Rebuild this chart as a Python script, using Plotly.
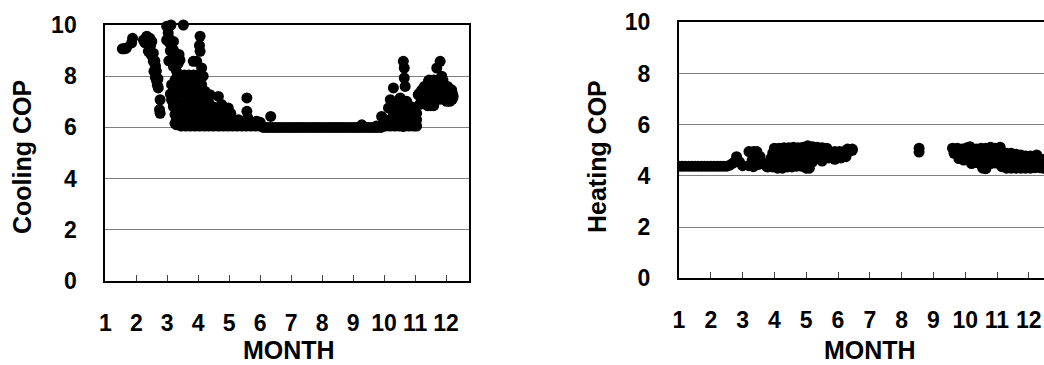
import plotly.graph_objects as go

# ---------------- data ----------------
months = [1, 2, 3, 4, 5, 6, 7, 8, 9, 10, 11, 12]
month_labels = [str(m) for m in months]
cop_ticks = [0, 2, 4, 6, 8, 10]

# Cooling COP: (month position, COP)
cooling_points = [
    (1.55, 9.07), (1.62, 9.07), (1.68, 9.10), (1.85, 9.30), (1.88, 9.48),
    (2.23, 9.41), (2.34, 9.56), (2.44, 9.48), (2.50, 9.36), (2.39, 8.97), (2.46, 9.20),
    (2.55, 8.58), (2.50, 8.80), (2.57, 8.19), (2.62, 8.40), (2.66, 7.80), (2.62, 7.95),
    (2.71, 7.54), (2.77, 7.08), (2.75, 6.69), (2.77, 6.55),
    (2.28, 9.30), (2.40, 9.25), (2.45, 8.90), (2.55, 8.90), (2.60, 8.60), (2.65, 8.20),
    (2.70, 7.90), (2.68, 7.65),
    (2.98, 9.95), (3.03, 9.69), (3.12, 10.0), (3.52, 10.0), (2.98, 9.41), (3.09, 9.28),
    (3.20, 9.36), (3.14, 8.97), (3.20, 9.02), (3.25, 8.58), (3.14, 8.63), (3.30, 8.19),
    (3.20, 8.37), (3.25, 7.85), (3.14, 7.67), (3.25, 7.28), (3.20, 7.46), (3.20, 6.89),
    (3.14, 7.07), (3.25, 6.50), (3.20, 6.81), (3.25, 6.16), (3.36, 6.17), (3.30, 6.35),
    (3.41, 6.68), (3.47, 7.33), (3.41, 7.98), (3.41, 8.63), (3.38, 8.85), (3.35, 7.00),
    (3.30, 7.60), (3.32, 8.00),
    (3.05, 9.50), (3.10, 9.00), (3.05, 8.60), (3.35, 8.50), (3.40, 7.60), (3.10, 7.30),
    (3.35, 6.80), (3.30, 6.10),
    (3.63, 7.93), (3.58, 7.54), (3.68, 7.02), (3.73, 6.50), (3.79, 6.10), (3.90, 7.93),
    (3.84, 8.58), (3.95, 8.58), (4.06, 9.56), (4.06, 8.97), (4.04, 9.20), (4.11, 8.32),
    (4.16, 8.00), (4.11, 7.67), (4.22, 7.41), (4.33, 7.02), (4.38, 7.28), (4.22, 6.63),
    (4.65, 7.21), (4.54, 6.76), (4.76, 6.89), (4.97, 6.76), (5.00, 6.50), (4.86, 6.37),
    (5.08, 6.24), (5.57, 7.15), (5.57, 6.63), (5.60, 6.37), (5.89, 6.24), (6.00, 6.20),
    (6.34, 6.43),
    # dense block, spring
    (3.45, 6.05), (3.60, 6.05), (3.75, 6.05), (3.90, 6.05), (4.05, 6.05), (4.20, 6.05),
    (4.35, 6.05), (4.50, 6.05), (4.65, 6.05), (4.80, 6.05), (4.95, 6.05), (5.10, 6.05),
    (5.25, 6.05), (5.40, 6.05), (5.55, 6.05), (5.70, 6.05), (5.85, 6.05), (6.00, 6.05),
    (3.50, 6.30), (3.65, 6.30), (3.80, 6.30), (3.95, 6.30), (4.10, 6.30), (4.25, 6.30),
    (4.40, 6.30), (4.55, 6.30), (4.70, 6.30), (4.85, 6.30), (5.00, 6.30), (5.15, 6.30),
    (5.30, 6.30),
    (3.55, 6.55), (3.70, 6.55), (3.85, 6.55), (4.00, 6.55), (4.15, 6.55), (4.30, 6.55),
    (4.45, 6.55), (4.60, 6.55), (4.75, 6.55), (4.90, 6.55), (5.05, 6.55),
    (3.60, 6.80), (3.75, 6.80), (3.90, 6.80), (4.05, 6.80), (4.20, 6.80), (4.35, 6.80),
    (4.50, 6.80),
    (3.65, 7.05), (3.80, 7.05), (3.95, 7.05), (4.10, 7.05), (4.25, 7.05),
    (3.70, 7.30), (3.85, 7.30), (4.00, 7.30), (4.15, 7.30),
    (3.65, 7.55), (3.80, 7.55), (3.95, 7.55),
    (3.60, 7.80), (3.75, 7.80), (3.90, 7.80), (4.05, 7.80),
    (3.55, 8.05), (3.70, 8.05), (3.85, 8.05), (4.00, 8.05),
    # summer band at 6.0
    (6.1, 6.0), (6.2, 6.0), (6.3, 6.0), (6.4, 6.0), (6.5, 6.0), (6.6, 6.0), (6.7, 6.0),
    (6.8, 6.0), (6.9, 6.0), (7.0, 6.0), (7.1, 6.0), (7.2, 6.0), (7.3, 6.0), (7.4, 6.0),
    (7.5, 6.0), (7.6, 6.0), (7.7, 6.0), (7.8, 6.0), (7.9, 6.0), (8.0, 6.0), (8.1, 6.0),
    (8.2, 6.0), (8.3, 6.0), (8.4, 6.0), (8.5, 6.0), (8.6, 6.0), (8.7, 6.0), (8.8, 6.0),
    (8.9, 6.0), (9.0, 6.0), (9.1, 6.0), (9.2, 6.0), (9.3, 6.0), (9.4, 6.0), (9.5, 6.0),
    (9.6, 6.0), (9.7, 6.0), (9.8, 6.0), (9.9, 6.0), (9.28, 6.10),
    # autumn
    (9.92, 6.43), (9.97, 6.10), (10.14, 6.76), (10.30, 7.54), (10.20, 7.08), (10.52, 7.15),
    (10.62, 8.58), (10.65, 8.32), (10.65, 7.93), (10.68, 7.60), (10.41, 6.89), (10.52, 6.50),
    (10.62, 6.76), (10.73, 7.02), (10.84, 6.63), (10.73, 6.37), (10.84, 6.10), (10.62, 6.04),
    (10.19, 6.10), (10.41, 6.10),
    (9.75, 6.05), (9.90, 6.05), (10.05, 6.05), (10.20, 6.05), (10.35, 6.05), (10.50, 6.05),
    (10.65, 6.05), (10.80, 6.05), (10.95, 6.05), (11.05, 6.05),
    (10.05, 6.30), (10.20, 6.30), (10.35, 6.30), (10.50, 6.30), (10.65, 6.30), (10.80, 6.30),
    (10.95, 6.30), (11.05, 6.30),
    (10.30, 6.55), (10.45, 6.55), (10.60, 6.55), (10.75, 6.55), (10.90, 6.55), (11.05, 6.55),
    (10.45, 6.80), (10.60, 6.80), (10.75, 6.80), (10.90, 6.80),
    # early winter
    (11.10, 7.28), (11.14, 6.89), (11.22, 7.47), (11.43, 7.80), (11.50, 7.41), (11.38, 6.95),
    (11.81, 8.58), (11.70, 8.32), (11.86, 8.00), (11.91, 7.67), (12.02, 7.47), (12.18, 7.47),
    (12.23, 7.21), (12.12, 7.02), (11.65, 7.67), (11.81, 7.28), (12.02, 7.02),
    (11.40, 6.85), (11.50, 6.85), (11.60, 6.85),
    (11.20, 7.10), (11.35, 7.10), (11.50, 7.10), (11.65, 7.10), (11.80, 7.10), (11.95, 7.10),
    (12.10, 7.10), (12.20, 7.10),
    (11.15, 7.35), (11.30, 7.35), (11.45, 7.35), (11.60, 7.35), (11.75, 7.35), (11.90, 7.35),
    (12.05, 7.35), (12.20, 7.35),
    (11.30, 7.60), (11.45, 7.60), (11.60, 7.60), (11.75, 7.60), (11.90, 7.60), (12.05, 7.60),
    (11.45, 7.85), (11.60, 7.85), (11.75, 7.85), (11.90, 7.85),
]

# Heating COP: (month position, COP)
heating_points = [
    (1.0, 4.38), (1.1, 4.38), (1.2, 4.38), (1.3, 4.38), (1.4, 4.38), (1.5, 4.38),
    (1.6, 4.38), (1.7, 4.38), (1.8, 4.38), (1.9, 4.38), (2.0, 4.38), (2.1, 4.38),
    (2.2, 4.38), (2.3, 4.38), (2.4, 4.38), (2.5, 4.38), (2.6, 4.42), (2.7, 4.50),
    (2.81, 4.75), (2.9, 4.55), (3.0, 4.40),
    (3.20, 4.95), (3.35, 4.95), (3.45, 4.95), (3.30, 4.62), (3.55, 4.75), (3.65, 4.50),
    (3.76, 4.36), (3.34, 4.36), (3.20, 4.40), (3.50, 4.45),
    # spring block
    (4.00, 5.08), (4.15, 5.08), (4.30, 5.10), (4.45, 5.10), (4.60, 5.12), (4.75, 5.10),
    (4.90, 5.12), (5.05, 5.18), (5.20, 5.14), (5.35, 5.12), (5.50, 5.10), (5.65, 5.08),
    (6.30, 5.05), (6.45, 5.05),
    (3.95, 4.90), (4.10, 4.90), (4.25, 4.90), (4.40, 4.90), (4.55, 4.90), (4.70, 4.90),
    (4.85, 4.90), (5.00, 4.90), (5.15, 4.90), (5.30, 4.90), (5.45, 4.90), (5.60, 4.90),
    (5.75, 4.90), (5.90, 4.95), (6.05, 4.95), (6.20, 4.95), (6.35, 4.95), (6.45, 5.00),
    (3.90, 4.70), (4.05, 4.70), (4.20, 4.70), (4.35, 4.70), (4.50, 4.70), (4.65, 4.70),
    (4.80, 4.70), (4.95, 4.70), (5.10, 4.70), (5.25, 4.70), (5.40, 4.70), (5.55, 4.70),
    (5.70, 4.70), (5.90, 4.65), (6.10, 4.70), (6.25, 4.75),
    (3.85, 4.50), (4.00, 4.50), (4.15, 4.50), (4.30, 4.50), (4.45, 4.50), (4.60, 4.50),
    (4.75, 4.50), (4.90, 4.50), (5.05, 4.50), (5.20, 4.55), (5.50, 4.58),
    (3.80, 4.35), (3.95, 4.35), (4.10, 4.30), (4.25, 4.30), (4.40, 4.35), (4.55, 4.35),
    (4.70, 4.38), (4.85, 4.38), (5.00, 4.30), (5.10, 4.30),
    # late summer
    (8.55, 5.08), (8.55, 4.93),
    # autumn / winter block
    (9.60, 5.08), (9.75, 5.08), (9.90, 5.05), (10.05, 5.10), (10.15, 5.14), (10.35, 5.05),
    (10.50, 5.08), (10.65, 5.08), (10.80, 5.12), (10.95, 5.08), (11.10, 5.12),
    (9.65, 4.88), (9.80, 4.88), (9.95, 4.88), (10.10, 4.88), (10.25, 4.88), (10.40, 4.88),
    (10.55, 4.88), (10.70, 4.88), (10.85, 4.88), (11.00, 4.88), (11.15, 4.88), (11.30, 4.88),
    (11.45, 4.88), (11.60, 4.85), (11.75, 4.82), (11.90, 4.78), (12.05, 4.78), (12.25, 4.82),
    (12.40, 4.65),
    (9.80, 4.68), (9.95, 4.62), (10.10, 4.68), (10.25, 4.68), (10.40, 4.62), (10.55, 4.68),
    (10.70, 4.68), (10.85, 4.68), (11.00, 4.62), (11.15, 4.68), (11.30, 4.62), (11.45, 4.62),
    (11.60, 4.62), (11.75, 4.62), (11.90, 4.62), (12.05, 4.62), (12.20, 4.62), (12.45, 4.62),
    (10.20, 4.48), (10.35, 4.52), (10.50, 4.48), (10.65, 4.48), (10.80, 4.48), (10.95, 4.50),
    (11.10, 4.48), (11.25, 4.48), (11.40, 4.45), (11.55, 4.45), (11.70, 4.45), (11.85, 4.45),
    (12.00, 4.45), (12.15, 4.45), (12.30, 4.45), (12.45, 4.45),
    (10.55, 4.30), (10.65, 4.28), (11.15, 4.36), (11.30, 4.30), (11.45, 4.30), (11.60, 4.30),
    (11.75, 4.30), (11.90, 4.30), (12.05, 4.30), (12.20, 4.32), (12.35, 4.32), (12.45, 4.30),
]

cool_month = [p[0] for p in cooling_points]
cool_cop = [p[1] for p in cooling_points]
heat_month = [p[0] for p in heating_points]
heat_cop = [p[1] for p in heating_points]

# ---------------- figure ----------------
W, H = 1044, 365
FONT = "Liberation Sans, Arial, Helvetica, sans-serif"
tick_font = dict(family=FONT, size=23, color="black", weight="bold")
title_font = dict(family=FONT, size=25, color="black", weight="bold")

fig = go.Figure()
marker = dict(color="black", size=11, line=dict(width=0))
fig.add_trace(go.Scatter(x=cool_month, y=cool_cop, mode="markers", marker=marker,
                         xaxis="x", yaxis="y", cliponaxis=False,
                         showlegend=False, hoverinfo="skip"))
fig.add_trace(go.Scatter(x=heat_month, y=heat_cop, mode="markers", marker=marker,
                         xaxis="x2", yaxis="y2", cliponaxis=True,
                         showlegend=False, hoverinfo="skip"))


def xaxis_cfg(domain, rng, anchor):
    return dict(domain=domain, range=rng, anchor=anchor, automargin=False,
                tickmode="array", tickvals=months, ticktext=month_labels,
                ticks="inside", ticklen=6, tickwidth=1, tickcolor="#444",
                showline=True, linecolor="black", linewidth=2, mirror=True,
                showgrid=False, zeroline=False, tickfont=tick_font,
                ticklabelstandoff=20, fixedrange=True)


def yaxis_cfg(domain, anchor, mirror):
    return dict(domain=domain, range=[0, 10], anchor=anchor, automargin=False,
                tickmode="array", tickvals=cop_ticks,
                ticks="", showline=True, linecolor="black", linewidth=2, mirror=mirror,
                showgrid=True, gridcolor="#808080", gridwidth=1, zeroline=False,
                tickfont=tick_font, ticklabelstandoff=22, fixedrange=True)


fig.update_layout(
    width=W, height=H,
    margin=dict(l=0, r=0, t=0, b=0, autoexpand=False),
    paper_bgcolor="white", plot_bgcolor="white",
    xaxis=xaxis_cfg([105.3 / W, 469.3 / W], [1, 12.75], "y"),
    yaxis=yaxis_cfg([(H - 281) / H, (H - 25) / H], "x", True),
    xaxis2=xaxis_cfg([679 / W, 1.0], [1, 1 + (W - 679) / 31.8], "y2"),
    yaxis2=yaxis_cfg([(H - 278.3) / H, (H - 22.3) / H], "x2", False),
    annotations=[
        dict(text="Cooling COP", x=22 / W, y=(H - 157) / H, xref="paper", yref="paper",
             textangle=-90, showarrow=False, font=title_font, xanchor="center", yanchor="middle"),
        dict(text="MONTH", x=289 / W, y=(H - 350) / H, xref="paper", yref="paper",
             showarrow=False, font=title_font, xanchor="center", yanchor="middle"),
        dict(text="Heating COP", x=597 / W, y=(H - 157) / H, xref="paper", yref="paper",
             textangle=-90, showarrow=False, font=title_font, xanchor="center", yanchor="middle"),
        dict(text="MONTH", x=870 / W, y=(H - 350) / H, xref="paper", yref="paper",
             showarrow=False, font=title_font, xanchor="center", yanchor="middle"),
    ],
)

fig.write_html("out.html", config={"displayModeBar": False})
